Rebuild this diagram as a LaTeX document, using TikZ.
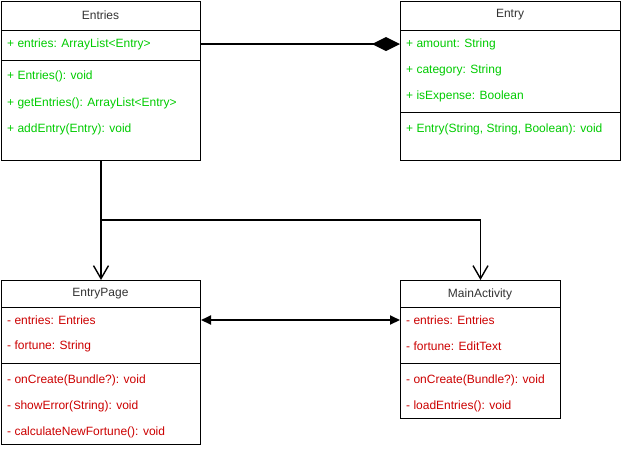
\documentclass[tikz,border=0pt]{standalone}
\usepackage{fontspec}
\setmainfont{Liberation Sans}
\usetikzlibrary{arrows.meta}
\definecolor{grn}{HTML}{00CC00}
\definecolor{rd}{HTML}{CC0000}
\definecolor{ttl}{HTML}{333333}
\begin{document}
\begin{tikzpicture}[x=1pt,y=-1pt,
  cls/.style={draw=black, line width=1pt, inner sep=0pt, anchor=north west, fill=white},
  ttlnode/.style={inner sep=0pt, text=ttl, font=\fontsize{12}{14}\selectfont},
  mem/.style={inner sep=0pt, anchor=west, font=\fontsize{12}{14}\selectfont},
  sep/.style={draw=black, line width=1pt},
  conn/.style={draw=black, line width=1.6pt},
  openarrow/.style={-{Straight Barb[length=13pt,width=15pt,line width=1.4pt]}},
]
\useasboundingbox (0,0) rectangle (621,448);
\fill[white] (0,0) rectangle (621,448);

% Entries
\node[cls, minimum width=199pt, minimum height=159pt] (entries) at (1,1) {};
\node[ttlnode] (entriesT) at (100.5,15) {Entries};
\draw[sep] (1,30) -- (200,30);
\draw[sep] (1,60) -- (200,60);
\node[mem, text=grn] (e1) at (7,44) {+ entries: ArrayList<Entry>};
\node[mem, text=grn] (e2) at (7,76) {+ Entries(): void};
\node[mem, text=grn] (e3) at (7,103) {+ getEntries(): ArrayList<Entry>};
\node[mem, text=grn] (e4) at (7,129) {+ addEntry(Entry): void};

% Entry
\node[cls, minimum width=220pt, minimum height=159pt] (entry) at (400,1) {};
\node[ttlnode] (entryT) at (510,15) {Entry};
\draw[sep] (400,30) -- (620,30);
\draw[sep] (400,112) -- (620,112);
\node[mem, text=grn] (a1) at (406,44) {+ amount: String};
\node[mem, text=grn] (a2) at (406,70) {+ category: String};
\node[mem, text=grn] (a3) at (406,96) {+ isExpense: Boolean};
\node[mem, text=grn] (a4) at (406,129) {+ Entry(String, String, Boolean): void};

% EntryPage
\node[cls, minimum width=199pt, minimum height=164pt] (entrypage) at (1,280) {};
\node[ttlnode] (entrypageT) at (100.5,294) {EntryPage};
\draw[sep] (1,307) -- (200,307);
\draw[sep] (1,363) -- (200,363);
\node[mem, text=rd] (p1) at (7,320) {- entries: Entries};
\node[mem, text=rd] (p2) at (7,346) {- fortune: String};
\node[mem, text=rd] (p3) at (7,380) {- onCreate(Bundle?): void};
\node[mem, text=rd] (p4) at (7,406) {- showError(String): void};
\node[mem, text=rd] (p5) at (7,432) {- calculateNewFortune(): void};

% MainActivity
\node[cls, minimum width=160pt, minimum height=138pt] (main) at (400,280) {};
\node[ttlnode] (mainT) at (480,294) {MainActivity};
\draw[sep] (400,307) -- (560,307);
\draw[sep] (400,363) -- (560,363);
\node[mem, text=rd] (m1) at (406,320) {- entries: Entries};
\node[mem, text=rd] (m2) at (406,346) {- fortune: EditText};
\node[mem, text=rd] (m3) at (406,380) {- onCreate(Bundle?): void};
\node[mem, text=rd] (m4) at (406,406) {- loadEntries(): void};

% connectors
\draw[conn, line width=2pt, -{Diamond[fill=black,length=28pt,width=14pt]}] (entries.east |- e1.west) -- (entry.west |- a1.west);
\draw[conn, openarrow] (entries.south) -- (entrypage.north);
\coordinate (branch) at (entries.south |- 0,220);
\draw[conn, openarrow] (entries.south) -- (branch) -| (main.north);
\draw[conn, line width=2pt, {Triangle[length=10pt,width=9pt]}-{Triangle[length=10pt,width=9pt]}] (entrypage.east |- p1.west) -- (main.west |- m1.west);
\end{tikzpicture}
\end{document}
